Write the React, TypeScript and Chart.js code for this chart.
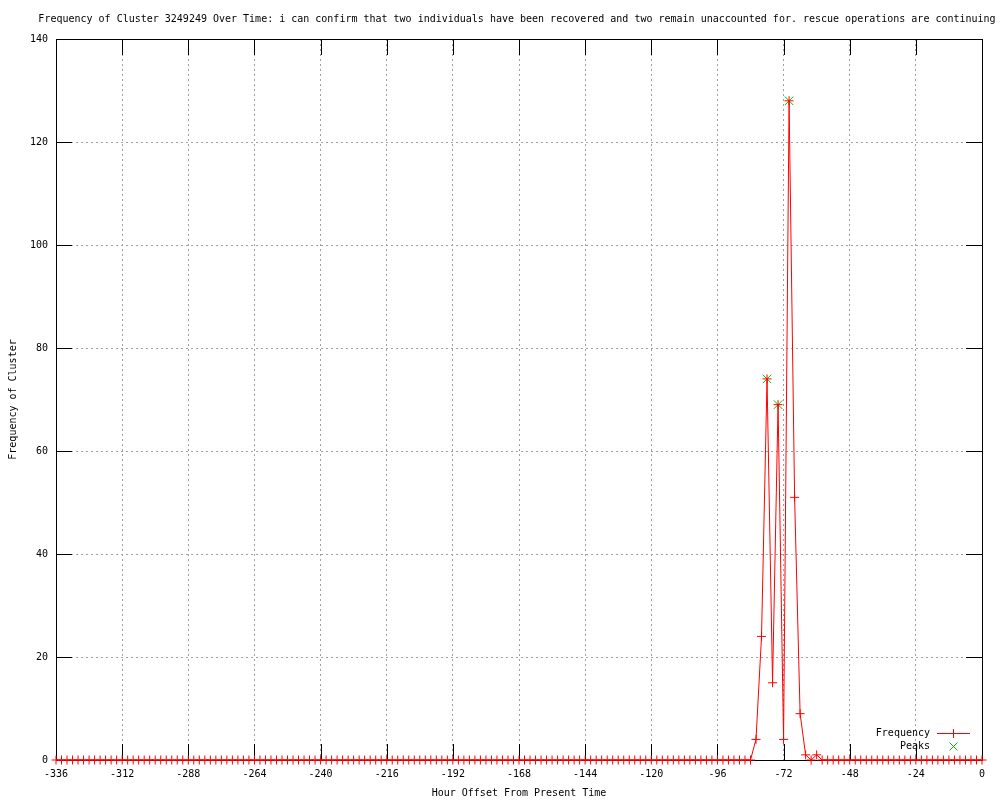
import React, { useEffect, useRef } from "react";
import { Chart, registerables } from "chart.js";

Chart.register(...registerables);

const TITLE =
  "Frequency of Cluster 3249249 Over Time: i can confirm that two individuals have been recovered and two remain unaccounted for. rescue operations are continuing";
const X_LABEL = "Hour Offset From Present Time";
const Y_LABEL = "Frequency of Cluster";
const SERIES_LABEL = "Frequency";
const PEAKS_LABEL = "Peaks";

const hours = [
  -336, -334, -332, -330, -328, -326, -324, -322, -320, -318, -316, -314,
  -312, -310, -308, -306, -304, -302, -300, -298, -296, -294, -292, -290,
  -288, -286, -284, -282, -280, -278, -276, -274, -272, -270, -268, -266,
  -264, -262, -260, -258, -256, -254, -252, -250, -248, -246, -244, -242,
  -240, -238, -236, -234, -232, -230, -228, -226, -224, -222, -220, -218,
  -216, -214, -212, -210, -208, -206, -204, -202, -200, -198, -196, -194,
  -192, -190, -188, -186, -184, -182, -180, -178, -176, -174, -172, -170,
  -168, -166, -164, -162, -160, -158, -156, -154, -152, -150, -148, -146,
  -144, -142, -140, -138, -136, -134, -132, -130, -128, -126, -124, -122,
  -120, -118, -116, -114, -112, -110, -108, -106, -104, -102, -100, -98,
  -96, -94, -92, -90, -88, -86, -84, -82, -80, -78, -76, -74,
  -72, -70, -68, -66, -64, -62, -60, -58, -56, -54, -52, -50,
  -48, -46, -44, -42, -40, -38, -36, -34, -32, -30, -28, -26,
  -24, -22, -20, -18, -16, -14, -12, -10, -8, -6, -4, -2,
  0,
];

const frequency = [
  0, 0, 0, 0, 0, 0, 0, 0, 0, 0, 0, 0,
  0, 0, 0, 0, 0, 0, 0, 0, 0, 0, 0, 0,
  0, 0, 0, 0, 0, 0, 0, 0, 0, 0, 0, 0,
  0, 0, 0, 0, 0, 0, 0, 0, 0, 0, 0, 0,
  0, 0, 0, 0, 0, 0, 0, 0, 0, 0, 0, 0,
  0, 0, 0, 0, 0, 0, 0, 0, 0, 0, 0, 0,
  0, 0, 0, 0, 0, 0, 0, 0, 0, 0, 0, 0,
  0, 0, 0, 0, 0, 0, 0, 0, 0, 0, 0, 0,
  0, 0, 0, 0, 0, 0, 0, 0, 0, 0, 0, 0,
  0, 0, 0, 0, 0, 0, 0, 0, 0, 0, 0, 0,
  0, 0, 0, 0, 0, 0, 0, 4, 24, 74, 15, 69,
  4, 128, 51, 9, 1, 0, 1, 0, 0, 0, 0, 0,
  0, 0, 0, 0, 0, 0, 0, 0, 0, 0, 0, 0,
  0, 0, 0, 0, 0, 0, 0, 0, 0, 0, 0, 0,
  0,
];

const peakHours = [-78, -74, -70];
const peakValues = [74, 69, 128];

const X_MIN = -336;
const X_MAX = 0;
const X_STEP = 24;
const Y_MIN = 0;
const Y_MAX = 140;
const Y_STEP = 20;

const FONT_FAMILY = "'DejaVu Sans Mono', 'Liberation Mono', monospace";
const RED = "#ff0000";
const GREEN = "#00c000";

const gnuplotPlugin = {
  id: "gnuplotFrame",
  beforeDatasetsDraw(chart: any) {
    const { ctx, chartArea: a, scales } = chart;
    const TL = 16;
    ctx.save();
    ctx.strokeStyle = "#000";
    ctx.lineWidth = 1;
    ctx.setLineDash([]);
    ctx.beginPath();
    scales.x.ticks.forEach((t: any) => {
      const px = Math.round(scales.x.getPixelForValue(t.value)) + 0.5;
      ctx.moveTo(px, a.bottom);
      ctx.lineTo(px, a.bottom - TL);
      ctx.moveTo(px, a.top);
      ctx.lineTo(px, a.top + TL);
    });
    scales.y.ticks.forEach((t: any) => {
      const py = Math.round(scales.y.getPixelForValue(t.value)) + 0.5;
      ctx.moveTo(a.left, py);
      ctx.lineTo(a.left + TL, py);
      ctx.moveTo(a.right, py);
      ctx.lineTo(a.right - TL, py);
    });
    ctx.stroke();
    ctx.strokeRect(
      Math.round(a.left) + 0.5,
      Math.round(a.top) + 0.5,
      Math.round(a.right) - Math.round(a.left),
      Math.round(a.bottom) - Math.round(a.top)
    );
    ctx.restore();
  },
  afterDraw(chart: any) {
    const { ctx, chartArea: a } = chart;
    ctx.save();
    ctx.setLineDash([]);
    ctx.globalAlpha = 1;
    ctx.font = `10px ${FONT_FAMILY}`;
    ctx.fillStyle = "#000";
    ctx.textBaseline = "middle";
    ctx.textAlign = "center";
    ctx.fillText(TITLE, 517, 19);

    // legend
    const textX = Math.round(a.right - 52);
    const y1 = Math.round(a.bottom - 27);
    const y2 = Math.round(a.bottom - 14);
    const mx = Math.round(a.right - 29);
    ctx.textAlign = "right";
    ctx.fillText(SERIES_LABEL, textX, y1);
    ctx.fillText(PEAKS_LABEL, textX, y2);

    ctx.fillStyle = RED;
    ctx.fillRect(Math.round(a.right - 45), y1, 33, 1);
    ctx.fillRect(mx, y1 - 4, 1, 9);

    ctx.strokeStyle = GREEN;
    ctx.lineWidth = 1;
    ctx.beginPath();
    ctx.moveTo(mx - 3.5, y2 - 3.5);
    ctx.lineTo(mx + 4.5, y2 + 4.5);
    ctx.moveTo(mx + 4.5, y2 - 3.5);
    ctx.lineTo(mx - 3.5, y2 + 4.5);
    ctx.stroke();
    ctx.restore();
  },
};

export default function App() {
  const canvasRef = useRef<HTMLCanvasElement | null>(null);

  useEffect(() => {
    const canvas = canvasRef.current;
    if (!canvas) return;
    const chart = new Chart(canvas, {
      type: "line",
      data: {
        datasets: [
          {
            label: SERIES_LABEL,
            data: hours.map((h, i) => ({ x: h, y: frequency[i] })),
            borderColor: RED,
            backgroundColor: RED,
            borderWidth: 1,
            pointStyle: "cross",
            pointRadius: 4.5,
            pointBorderColor: RED,
            pointBorderWidth: 1,
            tension: 0,
            fill: false,
            clip: 12,
            order: 0,
          },
          {
            label: PEAKS_LABEL,
            data: peakHours.map((h, i) => ({ x: h, y: peakValues[i] })),
            showLine: false,
            borderColor: GREEN,
            backgroundColor: GREEN,
            pointStyle: "crossRot",
            pointRadius: 6,
            pointBorderColor: GREEN,
            pointBorderWidth: 1,
            clip: 12,
            order: 1,
          },
        ],
      },
      options: {
        responsive: false,
        animation: false,
        layout: { padding: { top: 39, right: 18, bottom: 0, left: 0 } },
        plugins: {
          legend: { display: false },
          title: { display: false },
          tooltip: { enabled: false },
        },
        scales: {
          x: {
            type: "linear",
            min: X_MIN,
            max: X_MAX,
            ticks: {
              stepSize: X_STEP,
              color: "#000",
              padding: 8,
              maxRotation: 0,
              autoSkip: false,
              font: { family: FONT_FAMILY, size: 10 },
            },
            grid: { color: "#a0a0a0", drawTicks: false, lineWidth: 1 },
            border: { display: false, dash: [2, 3] },
            title: {
              display: true,
              text: X_LABEL,
              color: "#000",
              font: { family: FONT_FAMILY, size: 10 },
              padding: { top: 0, bottom: 1 },
            },
            afterFit: (scale: any) => {
              scale.height = 40;
            },
          },
          y: {
            type: "linear",
            min: Y_MIN,
            max: Y_MAX,
            ticks: {
              stepSize: Y_STEP,
              color: "#000",
              padding: 8,
              font: { family: FONT_FAMILY, size: 10 },
            },
            grid: { color: "#a0a0a0", drawTicks: false, lineWidth: 1 },
            border: { display: false, dash: [2, 3] },
            title: {
              display: true,
              text: Y_LABEL,
              color: "#000",
              font: { family: FONT_FAMILY, size: 10 },
              padding: { top: 7, bottom: 0 },
            },
            afterFit: (scale: any) => {
              scale.width = 56;
            },
          },
        },
      },
      plugins: [gnuplotPlugin],
    } as any);
    return () => chart.destroy();
  }, []);

  return (
    <div style={{ position: "fixed", left: 0, top: 0, width: 1000, height: 800, background: "#fff" }}>
      <canvas ref={canvasRef} width={1000} height={800} style={{ display: "block", width: 1000, height: 800 }} />
    </div>
  );
}
